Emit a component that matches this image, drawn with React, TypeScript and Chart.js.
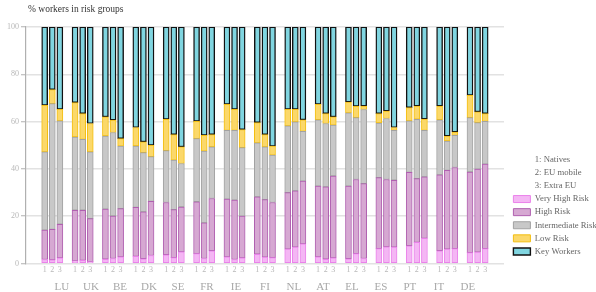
import React, { useEffect, useRef } from "react";
import { Chart, registerables } from "chart.js";

Chart.register(...registerables);

const countries = ["LU", "UK", "BE", "DK", "SE", "FR", "IE", "FI", "NL", "AT", "EL", "ES", "PT", "IT", "DE"];
const groupLabels = ["1", "2", "3"];
const groupLegend = ["1: Natives", "2: EU mobile", "3: Extra EU"];
const seriesNames = ["Very High Risk", "High Risk", "Intermediate Risk", "Low Risk", "Key Workers"];

// values per bar: country order, then 1 (Natives), 2 (EU mobile), 3 (Extra EU)
const veryHighRisk = [
  1.7, 1.5, 2.4, 1.1, 1.3, 0.8, 1.8, 2.1, 2.8, 3.0, 2.0, 3.4, 3.7, 2.5, 4.9,
  4.2, 2.1, 5.4, 2.8, 1.7, 2.4, 3.9, 2.7, 2.5, 6.1, 6.9, 8.3, 2.8, 1.8, 2.4,
  2.0, 4.2, 2.1, 6.3, 7.0, 6.9, 7.5, 8.9, 10.6, 5.4, 6.1, 6.3, 4.6, 4.8, 6.3,
];
const highRisk = [
  12.4, 12.9, 14.2, 21.4, 21.2, 18.2, 21.2, 18.0, 20.4, 20.7, 19.8, 22.9, 22.1, 20.3, 19.0,
  21.9, 15.1, 22.1, 24.4, 25.1, 17.6, 24.3, 24.3, 23.3, 23.9, 23.8, 26.5, 29.9, 30.6, 34.6,
  30.7, 31.3, 31.7, 30.0, 28.5, 28.3, 31.0, 27.0, 26.0, 32.1, 33.3, 34.3, 34.1, 35.1, 35.7,
];
const intermediateRisk = [
  33.1, 53.2, 43.7, 31.0, 30.0, 28.2, 30.9, 35.3, 26.4, 26.0, 25.1, 18.9, 21.9, 20.9, 18.4,
  26.7, 30.3, 21.8, 29.1, 29.5, 29.0, 22.8, 22.3, 20.0, 28.2, 29.2, 21.1, 28.1, 26.8, 21.5,
  31.0, 26.2, 31.3, 23.1, 25.8, 21.1, 21.8, 25.1, 19.7, 23.3, 12.4, 13.6, 23.0, 19.7, 18.1,
];
const lowRisk = [
  19.7, 5.9, 4.9, 14.5, 10.9, 12.0, 8.1, 5.2, 3.2, 7.8, 4.5, 4.8, 13.3, 10.8, 7.0,
  7.3, 6.7, 5.2, 11.0, 8.9, 7.6, 8.6, 5.2, 3.8, 7.0, 5.3, 4.9, 6.5, 4.2, 3.5,
  4.6, 4.8, 1.5, 4.0, 3.2, 1.2, 5.6, 5.6, 4.8, 5.8, 2.1, 1.4, 9.4, 4.5, 3.3,
];
const keyWorkers = [
  33.1, 26.5, 34.8, 32.0, 36.6, 40.8, 38.0, 39.4, 47.2, 42.5, 48.6, 50.0, 39.0, 45.5, 50.7,
  39.9, 45.8, 45.5, 32.7, 34.8, 43.4, 40.4, 45.5, 50.4, 34.8, 34.8, 39.2, 32.7, 36.6, 38.0,
  31.7, 33.5, 33.4, 36.6, 35.5, 42.5, 34.1, 33.4, 38.9, 33.4, 46.1, 44.4, 28.9, 35.9, 36.6,
];
const yTicks = [0, 20, 40, 60, 80, 100];

const fills = ["#f4b6f4", "#d6a8d2", "#c8c8c8", "#fbd86a", "#80d5e0"];
const borders = ["#ea82ea", "#b060b0", "#a2a2a2", "#f3be10", "#111111"];
const borderWidths = [1, 1, 1, 1, 1.4];

const SERIF = '"Liberation Serif", "DejaVu Serif", serif';
const X_MIN = -1.76;
const X_MAX = 59.78;

const slotOf = (i: number) => Math.floor(i / 3) * 4 + (i % 3);

const titlePlugin = {
  id: "topTitle",
  afterDraw(chart: any) {
    const { ctx, chartArea } = chart;
    ctx.save();
    ctx.font = `9.5px ${SERIF}`;
    ctx.fillStyle = "#333";
    ctx.textBaseline = "middle";
    ctx.textAlign = "left";
    ctx.fillText("% workers in risk groups", chartArea.left + 2, 9);
    ctx.restore();
  },
};

export default function App() {
  const ref = useRef<HTMLCanvasElement>(null);

  useEffect(() => {
    if (!ref.current) return;
    const series = [veryHighRisk, highRisk, intermediateRisk, lowRisk, keyWorkers];
    const datasets = series.map((vals, s) => ({
      label: seriesNames[s],
      data: vals.map((v, i) => ({ x: slotOf(i), y: v })),
      backgroundColor: fills[s],
      borderColor: borders[s],
      borderWidth: borderWidths[s],
      borderSkipped: false,
      barThickness: 6,
      xAxisID: "x",
      yAxisID: "y",
    }));
    const barSlots = countries.flatMap((_, g) => [0, 1, 2].map((b) => g * 4 + b));
    const chart = new Chart(ref.current, {
      type: "bar",
      data: { datasets: datasets as any },
      plugins: [titlePlugin],
      options: {
        animation: false,
        responsive: false,
        layout: { padding: { top: 27, left: 0, right: 0, bottom: 0 } },
        plugins: {
          tooltip: { enabled: false },
          title: { display: false },
          legend: {
            position: "right",
            align: "start",
            fullSize: false,
            maxWidth: 87,
            title: { display: true, text: "", font: { size: 9, lineHeight: 1.2 }, padding: 56.6 },
            labels: {
              boxWidth: 17,
              boxHeight: 7,
              padding: 4.4,
              color: "#a8a8a8",
              font: { family: SERIF, size: 8.7 },
              generateLabels: (c: any) => {
                const items: any[] = groupLegend.map((t) => ({
                  text: t,
                  fillStyle: "rgba(0,0,0,0)",
                  strokeStyle: "rgba(0,0,0,0)",
                  lineWidth: 0,
                  hidden: false,
                  datasetIndex: -1,
                }));
                c.data.datasets.forEach((d: any, i: number) => {
                  items.push({
                    text: d.label,
                    fillStyle: d.backgroundColor,
                    strokeStyle: d.borderColor,
                    lineWidth: d.borderWidth,
                    hidden: false,
                    datasetIndex: i,
                  });
                });
                return items;
              },
            },
          },
        },
        scales: {
          x: {
            type: "linear",
            position: "bottom",
            stacked: true,
            min: X_MIN,
            max: X_MAX,
            grid: { display: false, drawTicks: false },
            border: { display: false },
            afterBuildTicks: (axis: any) => {
              axis.ticks = barSlots.map((v) => ({ value: v }));
            },
            afterFit: (scale: any) => {
              scale.height = 14;
            },
            ticks: {
              autoSkip: false,
              maxRotation: 0,
              padding: 2,
              color: "#b8b8b8",
              font: { family: SERIF, size: 8 },
              callback: (v: any) => groupLabels[Math.round(Number(v)) % 4] ?? "",
            },
          },
          x2: {
            type: "linear",
            position: "bottom",
            min: X_MIN,
            max: X_MAX,
            grid: { display: false, drawTicks: false },
            border: { display: false },
            afterBuildTicks: (axis: any) => {
              axis.ticks = countries.map((_, g) => ({ value: g * 4 + 1 }));
            },
            afterFit: (scale: any) => {
              scale.height = 14.5;
            },
            ticks: {
              autoSkip: false,
              maxRotation: 0,
              padding: 3.5,
              color: "#a8a8a8",
              font: { family: SERIF, size: 11 },
              callback: (v: any) => countries[Math.round((Number(v) - 1) / 4)] ?? "",
            },
          },
          y: {
            type: "linear",
            position: "left",
            stacked: true,
            min: 0,
            max: 100,
            afterBuildTicks: (axis: any) => {
              axis.ticks = yTicks.map((v) => ({ value: v }));
            },
            afterFit: (scale: any) => {
              scale.width = 26;
            },
            grid: { color: "#e2e2e2", lineWidth: 1.5, tickLength: 5, tickColor: "#b0b0b0", tickWidth: 1 },
            border: { display: true, color: "#b0b0b0", width: 1.2 },
            ticks: {
              padding: 2,
              color: "#b8b8b8",
              font: { family: SERIF, size: 8 },
            },
          },
          yR: {
            type: "linear",
            position: "right",
            display: true,
            grid: { display: false, drawTicks: false },
            border: { display: false },
            ticks: { display: false },
            afterFit: (scale: any) => {
              scale.width = 5;
            },
          },
        },
      } as any,
    });
    return () => chart.destroy();
  }, []);

  return (
    <div style={{ position: "absolute", left: 0, top: 0, width: 596, height: 292 }}>
      <canvas ref={ref} width={596} height={292} style={{ display: "block" }} />
    </div>
  );
}
